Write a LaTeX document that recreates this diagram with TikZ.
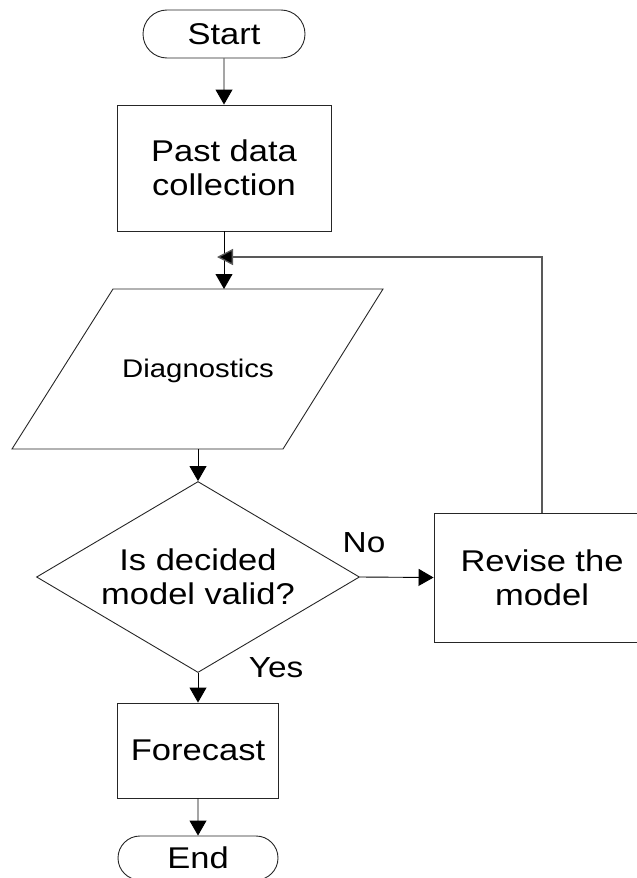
\documentclass[tikz,border=0pt]{standalone}
\usepackage{fontspec}
\setmainfont{Liberation Sans}[FakeStretch=1.15]
\usetikzlibrary{shapes.misc,shapes.geometric,arrows.meta}
\begin{document}
\begin{tikzpicture}[x=1pt,y=-1pt,
  box/.style={draw=black!85, line width=0.9pt, inner sep=0pt, align=center, font=\fontsize{30}{34}\selectfont},
  term/.style={box, rounded rectangle},
  decision/.style={box, diamond, aspect=1.69},
  arr/.style={line width=0.9pt, -{Triangle[length=15pt,width=17pt]}},
  fbline/.style={draw=black!65, line width=1.3pt, -{Triangle[length=16pt,width=16pt,fill=black]}},
  lbl/.style={font=\fontsize{29}{32}\selectfont, inner sep=0pt}]
\useasboundingbox (0,0) rectangle (637,878);
\node[term, minimum width=162pt, minimum height=48pt] (start) at (224,34) {Start};
\node[box, minimum width=214pt, minimum height=126pt] (past) at (224,168) {Past data\\collection};
% parallelogram
\draw[draw=black!85, line width=0.9pt] (113,289) -- (383,289) -- (283,449) -- (12,449) -- cycle;
\coordinate (dtop) at (224,289);
\coordinate (dbot) at (198,449);
\node[font=\fontsize{25.5}{28}\selectfont, inner sep=0pt, anchor=base] (diagtext) at (198,377) {Diagnostics};
\node[decision, minimum width=323pt, minimum height=191pt] (dec) at (198,577) {Is decided\\model valid?};
\node[box, minimum width=216pt, minimum height=129pt] (rev) at (542,577.5) {Revise the\\model};
\node[box, minimum width=161pt, minimum height=95pt] (fore) at (198,750.5) {Forecast};
\node[term, minimum width=160pt, minimum height=44pt] (endn) at (198,858) {End};
\coordinate (fb) at (217,257);
% connectors
\draw[arr] (start) -- (past);
\draw[arr] (past.south) -- (dtop);
\draw[arr] (dbot) -- (dec.north);
\draw[arr] (dec.east) -- (rev.west);
\draw[arr] (dec.south) -- (fore.north);
\draw[arr] (fore) -- (endn);
\draw[fbline] (rev.north) |- (fb);
% labels
\node[lbl, anchor=base] (no) at (364,552) {No};
\node[lbl, anchor=base] (yes) at (276,677) {Yes};
\end{tikzpicture}
\end{document}
